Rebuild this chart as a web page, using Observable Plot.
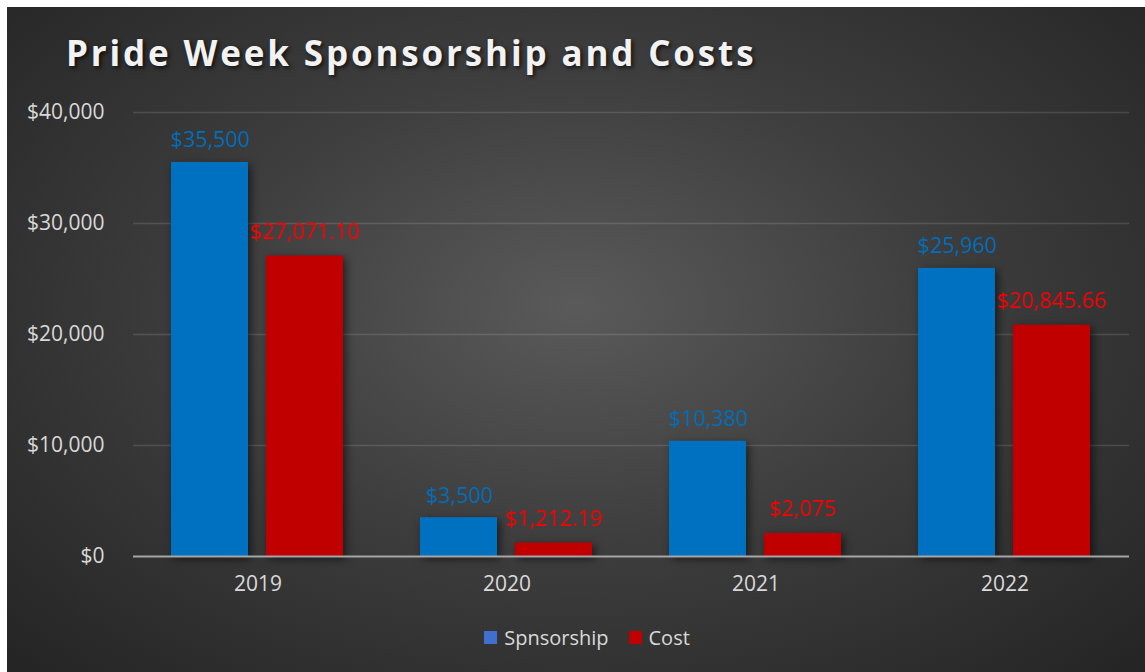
<!DOCTYPE html>
<html>
<head>
<meta charset="utf-8">
<script src="https://cdn.jsdelivr.net/npm/d3@7"></script>
<script src="https://cdn.jsdelivr.net/npm/@observablehq/plot@0.6"></script>
<style>
  html, body { margin: 0; padding: 0; background: #ffffff; }
  #chart {
    position: absolute; left: 7px; top: 7px; width: 1138px; height: 665px;
    background: radial-gradient(ellipse farthest-corner at 50% 45%, #5a5a5a 0%, #3e3e3e 45%, #242424 100%);
    font-family: "Open Sans", sans-serif; overflow: hidden;
  }
  #title {
    position: absolute; left: 59px; top: 22px; margin: 0;
    font-family: "Open Sans", sans-serif; font-weight: 700; font-size: 35px;
    letter-spacing: 2.85px; color: #f2f2f2;
    text-shadow: 2px 2px 4px rgba(0,0,0,0.7);
  }
  #plot { position: absolute; left: 0; top: 83px; }
  #plot g[aria-label="bar"] { filter: drop-shadow(3px 3px 4px rgba(0,0,0,0.55)); }
  #legend {
    position: absolute; left: 0; width: 1116px; padding-left: 22px; top: 616px; text-align: center;
    font-size: 20px; color: #d9d9d9; white-space: nowrap;
  }
  .item { display: inline-flex; align-items: center; margin: 0 10px; }
  .sw { display: inline-block; width: 13px; height: 13px; margin-right: 7px; }
</style>
</head>
<body>
<div id="chart">
  <div id="title">Pride Week Sponsorship and Costs</div>
  <div id="plot"></div>
  <div id="legend"></div>
</div>
<script>
const years = ["2019", "2020", "2021", "2022"];
const seriesNames = ["Spnsorship", "Cost"];
const sponsorship = [35500, 3500, 10380, 25960];
const cost = [27071.10, 1212.19, 2075, 20845.66];
const yTicks = [0, 10000, 20000, 30000, 40000];
const barColors = ["#0070c0", "#c00000"];
const labelColors = ["#0070c0", "#ff0000"];
const swatchColors = ["#3f6fcf", "#c00000"];

const fmt = v => Number.isInteger(v) ? "$" + d3.format(",")(v) : "$" + d3.format(",.2f")(v);

const data = [];
years.forEach((y, i) => {
  data.push({year: y, series: seriesNames[0], value: sponsorship[i], label: fmt(sponsorship[i])});
  data.push({year: y, series: seriesNames[1], value: cost[i], label: fmt(cost[i])});
});

const chart = Plot.plot({
  width: 1138,
  height: 520,
  marginLeft: 124,
  marginRight: 15,
  marginTop: 22,
  marginBottom: 54,
  style: {background: "transparent", fontFamily: "Open Sans", fontSize: "21px", color: "#d9d9d9", overflow: "visible"},
  fx: {domain: years, paddingInner: 0, paddingOuter: 0, label: null, axis: "bottom", tickSize: 0, tickPadding: 20},
  x: {domain: seriesNames, paddingInner: 0.1875, paddingOuter: 0.396, axis: null},
  y: {domain: [0, 40000], ticks: yTicks, tickFormat: d => "$" + d3.format(",")(d), tickSize: 0, tickPadding: 29, label: null},
  color: {domain: seriesNames, range: barColors},
  marks: [
    Plot.ruleY(yTicks.filter(d => d > 0), {stroke: "#ffffff", strokeOpacity: 0.13, strokeWidth: 1.3}),
    Plot.barY(data, {fx: "year", x: "series", y: "value", fill: "series"}),
    Plot.ruleY([0], {stroke: "#a6a6a6", strokeWidth: 2}),
    Plot.text(data.filter(d => d.series === seriesNames[0]), {fx: "year", x: "series", y: "value", text: "label", fill: labelColors[0], lineAnchor: "bottom", dy: -15, fontSize: 21.5}),
    Plot.text(data.filter(d => d.series === seriesNames[1]), {fx: "year", x: "series", y: "value", text: "label", fill: labelColors[1], lineAnchor: "bottom", dy: -17, fontSize: 21.5})
  ]
});
document.getElementById("plot").appendChild(chart);

const legend = document.getElementById("legend");
seriesNames.forEach((name, i) => {
  const item = document.createElement("span");
  item.className = "item";
  const sw = document.createElement("span");
  sw.className = "sw";
  sw.style.background = swatchColors[i];
  item.appendChild(sw);
  item.appendChild(document.createTextNode(name));
  legend.appendChild(item);
});
</script>
</body>
</html>
